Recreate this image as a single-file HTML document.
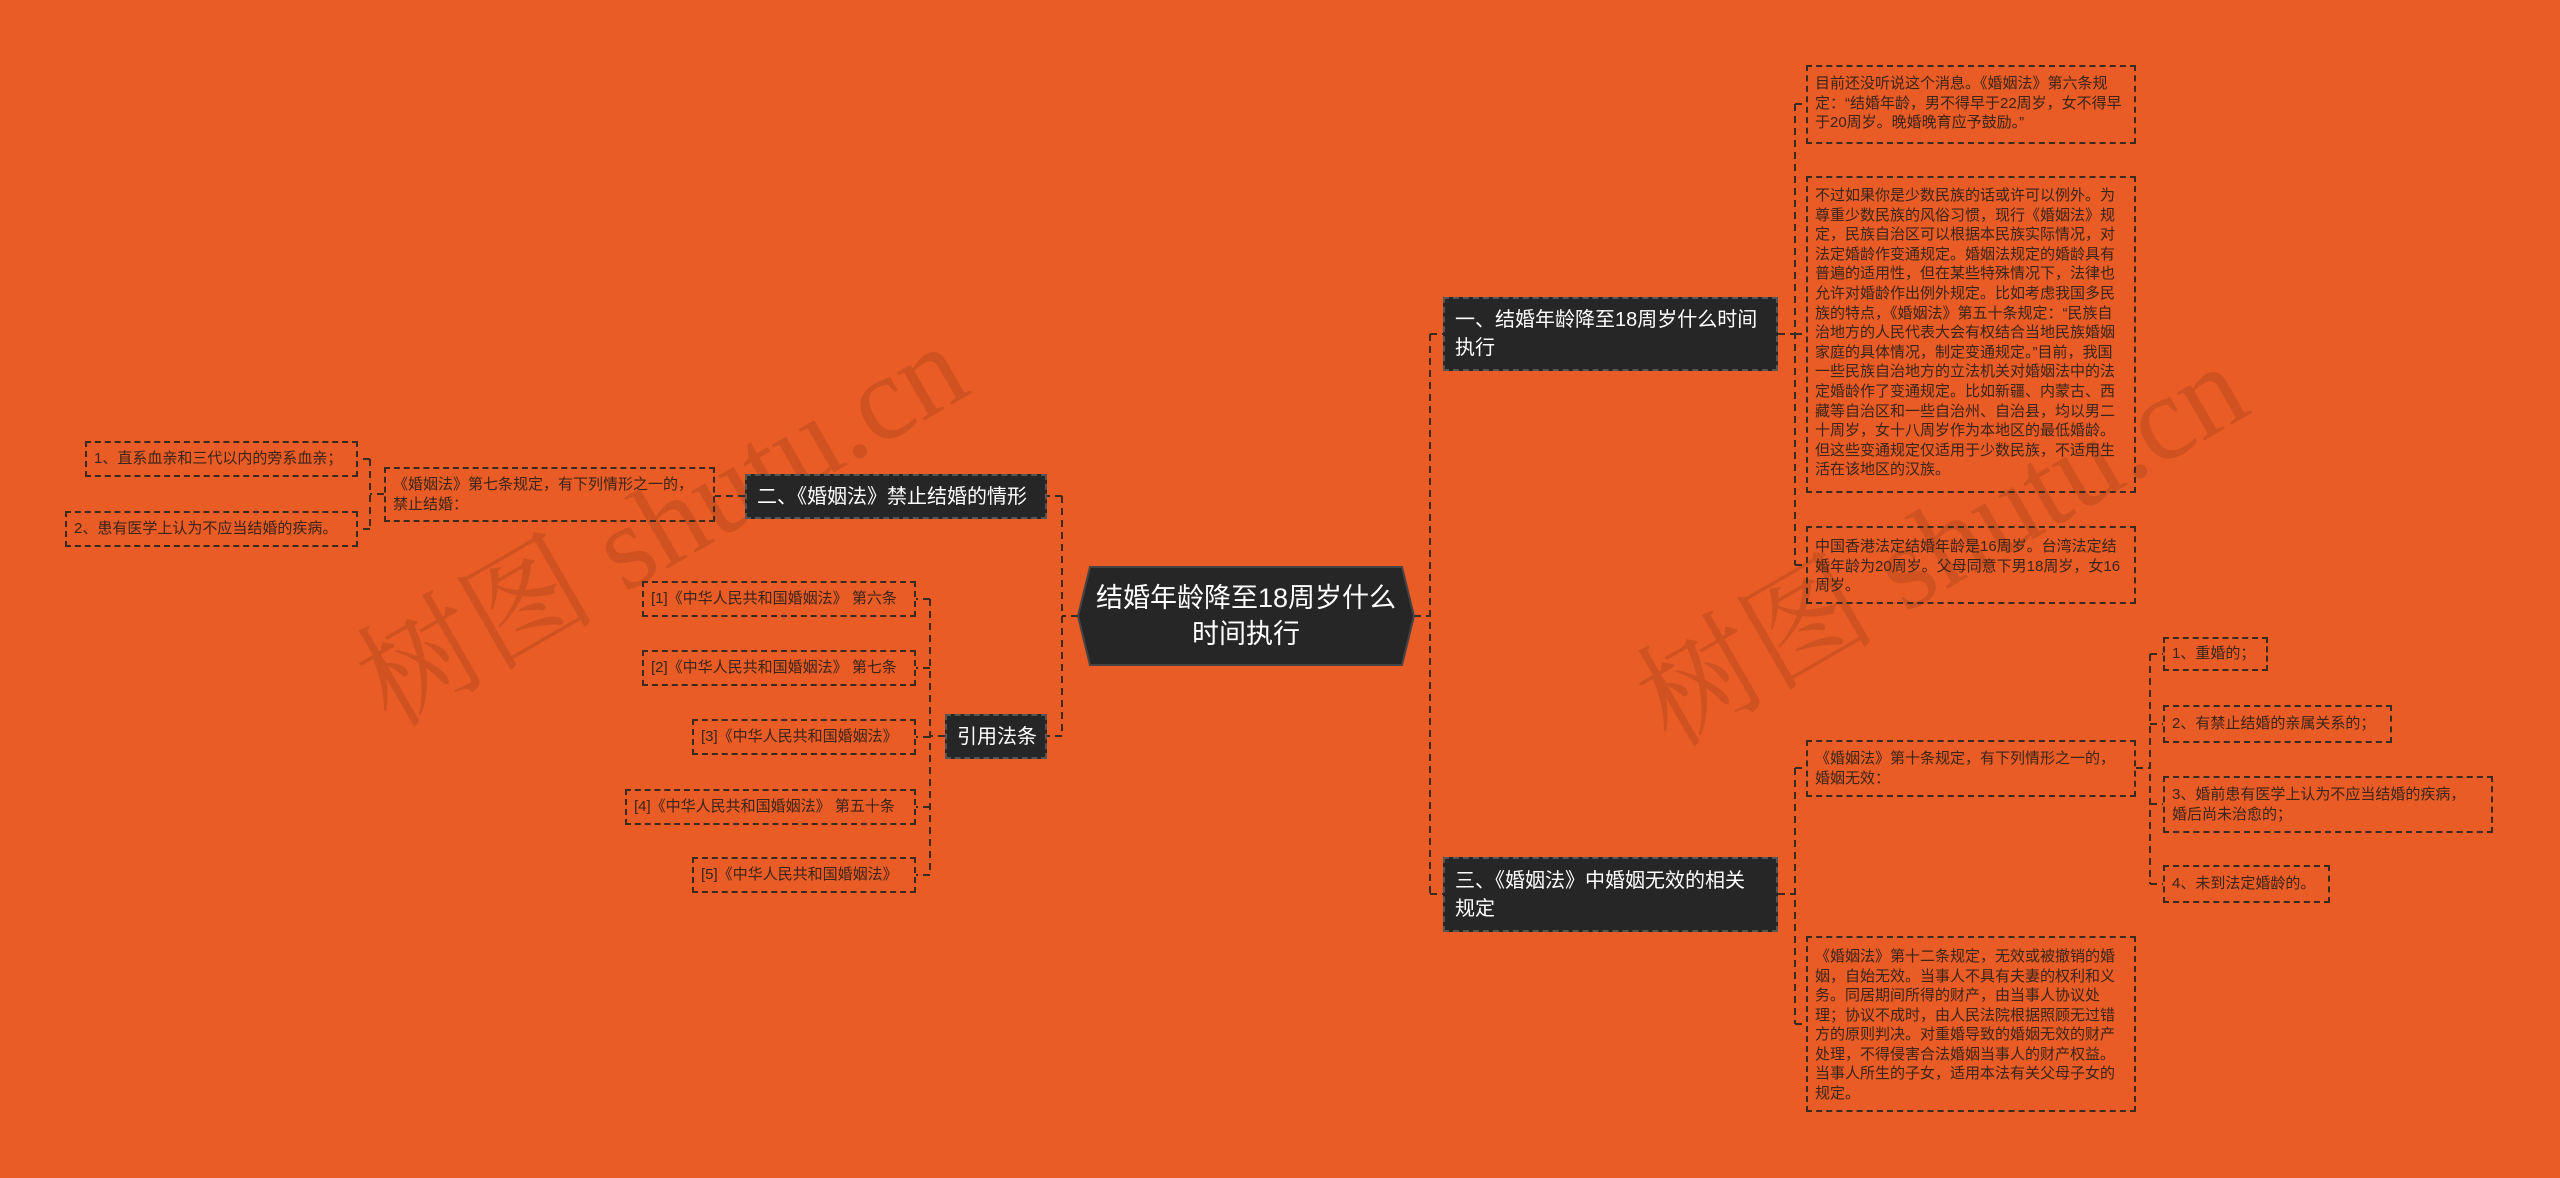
<!DOCTYPE html>
<html><head><meta charset="utf-8"><style>
*{margin:0;padding:0;box-sizing:border-box}
body{width:2560px;height:1178px;background:#E95C26;position:relative;overflow:hidden;font-family:"Liberation Sans","Noto Sans CJK SC",sans-serif}
.b{position:absolute;border:2px dashed #3a2a20;color:#3b2418;font-size:15px;line-height:19.5px;padding:9px 7px;letter-spacing:0}
.n{white-space:nowrap;display:flex;align-items:center;padding-top:6px;padding-bottom:6px}
.d{position:absolute;background:#262626;color:#fff;font-size:20px;line-height:28px;padding:6px 10px;border:2px dashed #555;display:flex;align-items:center;white-space:nowrap}
.wm{position:absolute;font-family:"Liberation Serif","Noto Serif CJK SC",serif;font-size:120px;color:rgba(120,50,20,0.22);transform:rotate(-30deg);white-space:nowrap}
</style></head><body>
<div class="wm" style="left:320px;top:430px">树图 shutu.cn</div>
<div class="wm" style="left:1600px;top:450px">树图 shutu.cn</div>
<svg width="2560" height="1178" style="position:absolute;left:0;top:0" fill="none" stroke="#3a2a20" stroke-width="2" stroke-dasharray="7,5">
<path d="M1414 616H1430M1430 334V894M1430 334H1443M1430 894H1443"/>
<path d="M1778 334H1795M1795 104V565M1795 104H1806M1795 334H1806M1795 565H1806"/>
<path d="M1778 894H1795M1795 768V1024M1795 768H1806M1795 1024H1806"/>
<path d="M2136 768H2150M2150 654V884M2150 654H2163M2150 724H2163M2150 804H2163M2150 884H2163"/>
<path d="M1078 616H1062M1062 496V736M1062 496H1047M1062 736H1047"/>
<path d="M745 496H715"/>
<path d="M384 494H370M370 459V529M370 459H358M370 529H358"/>
<path d="M945 736H930M930 599V875M930 599H916M930 668H916M930 737H916M930 807H916M930 875H916"/>
</svg>
<svg width="2560" height="1178" style="position:absolute;left:0;top:0">
<polygon points="1090,567 1402,567 1414,616 1402,665 1090,665 1078,616" fill="#262626" stroke="#444" stroke-width="2"/>
</svg>
<div style="position:absolute;left:1085px;top:567px;width:322px;height:98px;display:flex;align-items:center;justify-content:center;text-align:center;color:#fff;font-size:27px;line-height:36px">结婚年龄降至18周岁什么<br>时间执行</div>
<div class="d" style="left:1443px;top:297px;width:335px;height:74px">一、结婚年龄降至18周岁什么时间<br>执行</div>
<div class="d" style="left:745px;top:474px;width:302px;height:45px">二、《婚姻法》禁止结婚的情形</div>
<div class="d" style="left:945px;top:714px;width:102px;height:45px">引用法条</div>
<div class="d" style="left:1443px;top:857px;width:335px;height:75px">三、《婚姻法》中婚姻无效的相关<br>规定</div>
<div class="b" style="left:1806px;top:65px;width:330px;height:79px;padding-top:7px">目前还没听说这个消息。《婚姻法》第六条规定：“结婚年龄，男不得早于22周岁，女不得早于20周岁。晚婚晚育应予鼓励。”</div>
<div class="b" style="left:1806px;top:176px;width:330px;height:317px;line-height:19.6px;padding-top:8px">不过如果你是少数民族的话或许可以例外。为尊重少数民族的风俗习惯，现行《婚姻法》规定，民族自治区可以根据本民族实际情况，对法定婚龄作变通规定。婚姻法规定的婚龄具有普遍的适用性，但在某些特殊情况下，法律也允许对婚龄作出例外规定。比如考虑我国多民族的特点，《婚姻法》第五十条规定：“民族自治地方的人民代表大会有权结合当地民族婚姻家庭的具体情况，制定变通规定。”目前，我国一些民族自治地方的立法机关对婚姻法中的法定婚龄作了变通规定。比如新疆、内蒙古、西藏等自治区和一些自治州、自治县，均以男二十周岁，女十八周岁作为本地区的最低婚龄。但这些变通规定仅适用于少数民族，不适用生活在该地区的汉族。</div>
<div class="b" style="left:1806px;top:526px;width:330px;height:78px">中国香港法定结婚年龄是16周岁。台湾法定结婚年龄为20周岁。父母同意下男18周岁，女16周岁。</div>
<div class="b" style="left:1806px;top:740px;width:330px;height:57px;padding-top:7px">《婚姻法》第十条规定，有下列情形之一的，<br>婚姻无效：</div>
<div class="b" style="left:1806px;top:936px;width:330px;height:176px">《婚姻法》第十二条规定，无效或被撤销的婚姻，自始无效。当事人不具有夫妻的权利和义务。同居期间所得的财产，由当事人协议处理；协议不成时，由人民法院根据照顾无过错方的原则判决。对重婚导致的婚姻无效的财产处理，不得侵害合法婚姻当事人的财产权益。当事人所生的子女，适用本法有关父母子女的规定。</div>
<div class="b n" style="left:2163px;top:637px;width:105px;height:34px">1、重婚的；</div>
<div class="b n" style="left:2163px;top:705px;width:229px;height:38px">2、有禁止结婚的亲属关系的；</div>
<div class="b" style="left:2163px;top:776px;width:330px;height:57px;padding-top:7px">3、婚前患有医学上认为不应当结婚的疾病，<br>婚后尚未治愈的；</div>
<div class="b n" style="left:2163px;top:865px;width:167px;height:38px">4、未到法定婚龄的。</div>
<div class="b" style="left:384px;top:467px;width:331px;height:55px;padding-top:6px">《婚姻法》第七条规定，有下列情形之一的，<br>禁止结婚：</div>
<div class="b n" style="left:85px;top:441px;width:273px;height:36px">1、直系血亲和三代以内的旁系血亲；</div>
<div class="b n" style="left:65px;top:511px;width:293px;height:36px">2、患有医学上认为不应当结婚的疾病。</div>
<div class="b n" style="left:642px;top:581px;width:274px;height:36px">[1]《中华人民共和国婚姻法》 第六条</div>
<div class="b n" style="left:642px;top:650px;width:274px;height:36px">[2]《中华人民共和国婚姻法》 第七条</div>
<div class="b n" style="left:692px;top:719px;width:224px;height:36px">[3]《中华人民共和国婚姻法》</div>
<div class="b n" style="left:625px;top:789px;width:291px;height:36px">[4]《中华人民共和国婚姻法》 第五十条</div>
<div class="b n" style="left:692px;top:857px;width:224px;height:36px">[5]《中华人民共和国婚姻法》</div>
</body></html>
